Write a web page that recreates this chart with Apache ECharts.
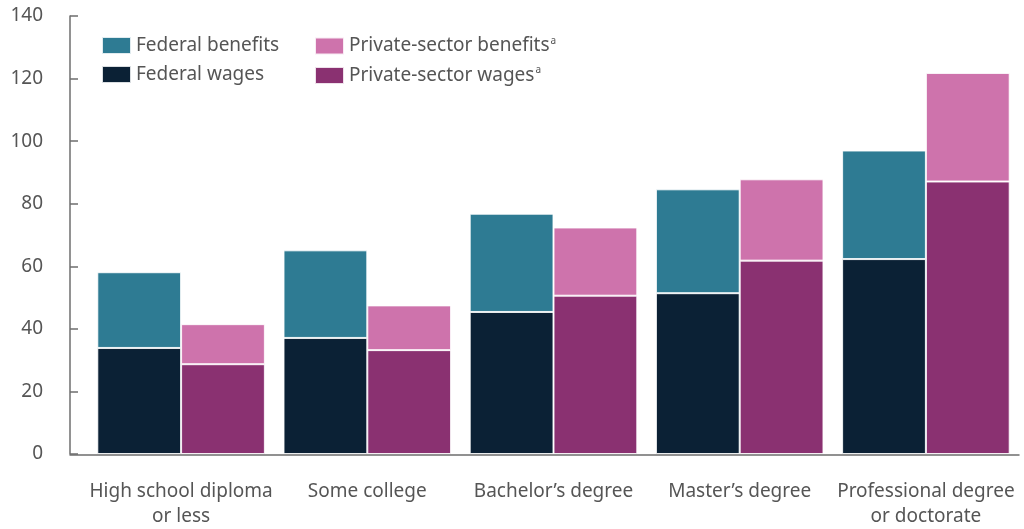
<!DOCTYPE html>
<html><head><meta charset="utf-8">
<script src="https://cdn.jsdelivr.net/npm/echarts@6/dist/echarts.min.js"></script>
<style>html,body{margin:0;padding:0;background:#fff}#c{width:1024px;height:529px}</style>
</head><body><div id="c"></div>
<script>
const categories = ['High school diploma\nor less', 'Some college', 'Bachelor\u2019s degree', 'Master\u2019s degree', 'Professional degree\nor doctorate'];
const federalWages = [33.9, 37.1, 45.4, 51.4, 62.3];
const federalBenefits = [24.2, 28.0, 31.4, 33.2, 34.7];
const privateWages = [28.7, 33.2, 50.6, 61.8, 87.1];
const privateBenefits = [12.8, 14.3, 21.8, 26.0, 34.7];
const yTicks = [0, 20, 40, 60, 80, 100, 120, 140];

const FONT = 'Noto Sans';
const TXT = '#555555';
const AX = '#6e6e6e';
const C = { fb: '#2e7b93', fw: '#0b2135', pb: '#ce73ac', pw: '#8a3171' };

const chart = echarts.init(document.getElementById('c'), null, { renderer: 'canvas' });
const barStyle = (col) => ({ color: col, borderColor: 'rgba(255,255,255,0.85)', borderWidth: 1 });
const sup = { a: { fontSize: 10, verticalAlign: 'top', padding: [0, 0, 10, 1], color: TXT, fontFamily: FONT } };
chart.setOption({
  animation: false,
  textStyle: { fontFamily: FONT },
  grid: [
    { left: 88, right: 5, top: 16, bottom: 74, containLabel: false },
    { left: 70, right: 5, top: 16, bottom: 74, containLabel: false }
  ],
  legend: [
    {
      left: 101, top: 36, padding: 0, orient: 'vertical', itemWidth: 29, itemHeight: 17, itemGap: 10,
      icon: 'rect',
      data: ['Federal benefits', 'Federal wages'],
      textStyle: { fontSize: 19, color: TXT, fontFamily: FONT }
    },
    {
      left: 314, top: 36, padding: 0, orient: 'vertical', itemWidth: 29, itemHeight: 17, itemGap: 10,
      icon: 'rect',
      data: ['Private-sector benefits', 'Private-sector wages'],
      formatter: (n) => n + '{a|a}',
      textStyle: { fontSize: 19, color: TXT, fontFamily: FONT, rich: sup }
    }
  ],
  xAxis: [
    {
      type: 'category', gridIndex: 0, data: categories,
      axisLine: { show: false }, axisTick: { show: false },
      axisLabel: { fontSize: 19, color: TXT, fontFamily: FONT, margin: 25, lineHeight: 25, interval: 0 }
    },
    {
      type: 'value', gridIndex: 1, min: 0, max: 1,
      axisLine: { show: true, onZero: false, lineStyle: { color: AX, width: 1.5 } },
      axisTick: { show: false }, axisLabel: { show: false }, splitLine: { show: false }
    }
  ],
  yAxis: [
    {
      type: 'value', gridIndex: 0, min: 0, max: 140, interval: 20, offset: 18,
      axisLine: { show: true, lineStyle: { color: AX, width: 1.5 } },
      axisTick: { show: true, inside: true, length: 8, lineStyle: { color: AX, width: 1.5 } },
      axisLabel: { fontSize: 19, color: TXT, fontFamily: FONT, margin: 27,
        formatter: (v) => yTicks.includes(v) ? String(v) : '' },
      splitLine: { show: false }
    },
    { type: 'value', gridIndex: 1, show: false, min: 0, max: 1 }
  ],
  series: [
    { name: 'Federal wages', type: 'bar', stack: 'fed', data: federalWages, itemStyle: barStyle(C.fw), barCategoryGap: '10%', barGap: '0%' },
    { name: 'Federal benefits', type: 'bar', stack: 'fed', data: federalBenefits, itemStyle: barStyle(C.fb) },
    { name: 'Private-sector wages', type: 'bar', stack: 'priv', data: privateWages, itemStyle: barStyle(C.pw) },
    { name: 'Private-sector benefits', type: 'bar', stack: 'priv', data: privateBenefits, itemStyle: barStyle(C.pb) }
  ]
});
</script></body></html>
